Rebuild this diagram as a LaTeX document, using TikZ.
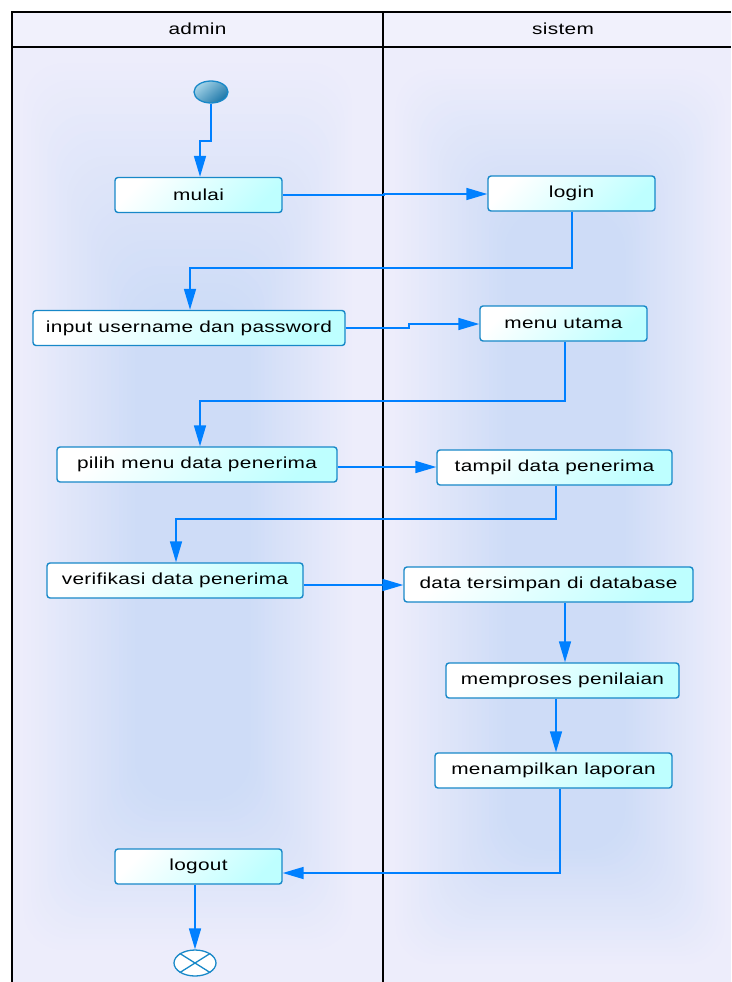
\documentclass[tikz,border=0pt]{standalone}
\usepackage{fontspec}
\setmainfont{Liberation Sans}
\newfontfamily\labelfont{Liberation Sans}[FakeStretch=1.3,LetterSpace=2]
\usetikzlibrary{arrows.meta,shapes.geometric}

\definecolor{lanebg}{RGB}{237,237,251}
\definecolor{headbg}{RGB}{241,241,252}
\definecolor{glowcore}{RGB}{206,220,247}
\definecolor{actborder}{RGB}{24,136,200}
\definecolor{actfill}{RGB}{190,255,255}
\definecolor{flowblue}{RGB}{0,128,255}
\definecolor{startlight}{RGB}{165,212,232}
\definecolor{startdark}{RGB}{28,118,168}

% soft glow: nested rounded boxes whose colour steps from the lane colour to the core colour
\newcommand{\laneglowbox}[8]{%
  \foreach \i in {0,...,29} {
    \pgfmathsetmacro\gx{#1+\i/29*(#5-#1)}
    \pgfmathsetmacro\gy{#2+\i/29*(#6-#2)}
    \pgfmathsetmacro\gX{#3-\i/29*(#3-#7)}
    \pgfmathsetmacro\gY{#4-\i/29*(#4-#8)}
    \pgfmathtruncatemacro\gp{100*\i/29}
    \fill[glowcore!\gp!lanebg, rounded corners=40pt] (\gx,\gy) rectangle (\gX,\gY);
  }}

\begin{document}
\begin{tikzpicture}[x=1pt,y=-1pt,
  lanetext/.style={font=\labelfont\fontsize{16}{19}\selectfont, text=black},
  act/.style={draw=actborder, line width=1.4pt, rounded corners=3pt,
    top color=white, bottom color=actfill, shading angle=45,
    minimum height=35, inner sep=0pt,
    font=\labelfont\fontsize{16}{19}\selectfont, text=black},
  startnode/.style={ellipse, draw=actborder, line width=1.3pt,
    top color=startlight, bottom color=startdark, shading angle=40,
    minimum width=34, minimum height=22, inner sep=0pt},
  endnode/.style={ellipse, draw=actborder, line width=1.3pt, fill=white,
    minimum width=42, minimum height=26, inner sep=0pt},
  flow/.style={draw=flowblue, line width=1.7pt, -{Triangle[length=21pt,width=12pt]}},
  frame/.style={draw=black, line width=2pt}]

\useasboundingbox (0,0) rectangle (731,982);
\fill[white] (0,0) rectangle (731,982);

% swimlane backgrounds
\fill[lanebg] (12,47) rectangle (731,982);
\fill[headbg] (12,12) rectangle (731,47);
\laneglowbox{20}{55}{355}{955}{135}{300}{250}{800}
\laneglowbox{392}{65}{728}{968}{505}{210}{625}{850}

% swimlane frame
\draw[frame] (731,12) -- (12,12) -- (12,982);
\draw[frame] (12,47) -- (731,47);
\draw[frame] (383,12) -- (383,982);

\node[lanetext] (hadmin) at (197.5,29) {admin};
\node[lanetext] (hsistem) at (563,29) {sistem};

% activities
\node[startnode] (start) at (211,92) {};
\node[act, minimum width=167] (mulai) at (198.5,195) {mulai};
\node[act, minimum width=167] (login) at (571.5,193.5) {login};
\node[act, minimum width=312] (input) at (189,328) {input username dan password};
\node[act, minimum width=167] (menu) at (563.5,323.5) {menu utama};
\node[act, minimum width=280] (pilih) at (197,464.5) {pilih menu data penerima};
\node[act, minimum width=235] (tampil) at (554.5,467.5) {tampil data penerima};
\node[act, minimum width=256] (verif) at (175,580.5) {verifikasi data penerima};
\node[act, minimum width=289] (simpan) at (548.5,584.5) {data tersimpan di database};
\node[act, minimum width=233] (proses) at (562.5,680.5) {memproses penilaian};
\node[act, minimum width=237] (laporan) at (553.5,770.5) {menampilkan laporan};
\node[act, minimum width=167] (logout) at (198.5,866.5) {logout};
\node[endnode] (end) at (195,963) {};
\draw[actborder, line width=1.3pt] (end.north west) -- (end.south east)
  (end.north east) -- (end.south west);

% control flow
\draw[flow] (start.south) -- ++(0,37) -| ([xshift=1.5pt]mulai.north);
\draw[flow] (mulai.east) -- ++(101,0) |- ([yshift=-0.5pt]login.west);
\draw[flow] ([xshift=0.5pt]login.south) -- ++(0,56) -| ([xshift=1pt]input.north);
\draw[flow] (input.east) -- ++(63,0) |- ([yshift=-0.5pt]menu.west);
\draw[flow] ([xshift=1.5pt]menu.south) -- ++(0,59) -| ([xshift=3pt]pilih.north);
\draw[flow] ([yshift=-2.5pt]pilih.east) -- ([yshift=0.5pt]tampil.west);
\draw[flow] ([xshift=1.5pt]tampil.south) -- ++(0,33) -| ([xshift=1pt]verif.north);
\draw[flow] ([yshift=-4.5pt]verif.east) -- ([yshift=-0.5pt]simpan.west);
\draw[flow] ([xshift=16.5pt]simpan.south) -- ([xshift=2.5pt]proses.north);
\draw[flow] ([xshift=-6.5pt]proses.south) -- ([xshift=2.5pt]laporan.north);
\draw[flow] ([xshift=6.5pt]laporan.south) |- ([yshift=-6.5pt]logout.east);
\draw[flow] ([xshift=-3.5pt]logout.south) -- (end.north);
\end{tikzpicture}
\end{document}
